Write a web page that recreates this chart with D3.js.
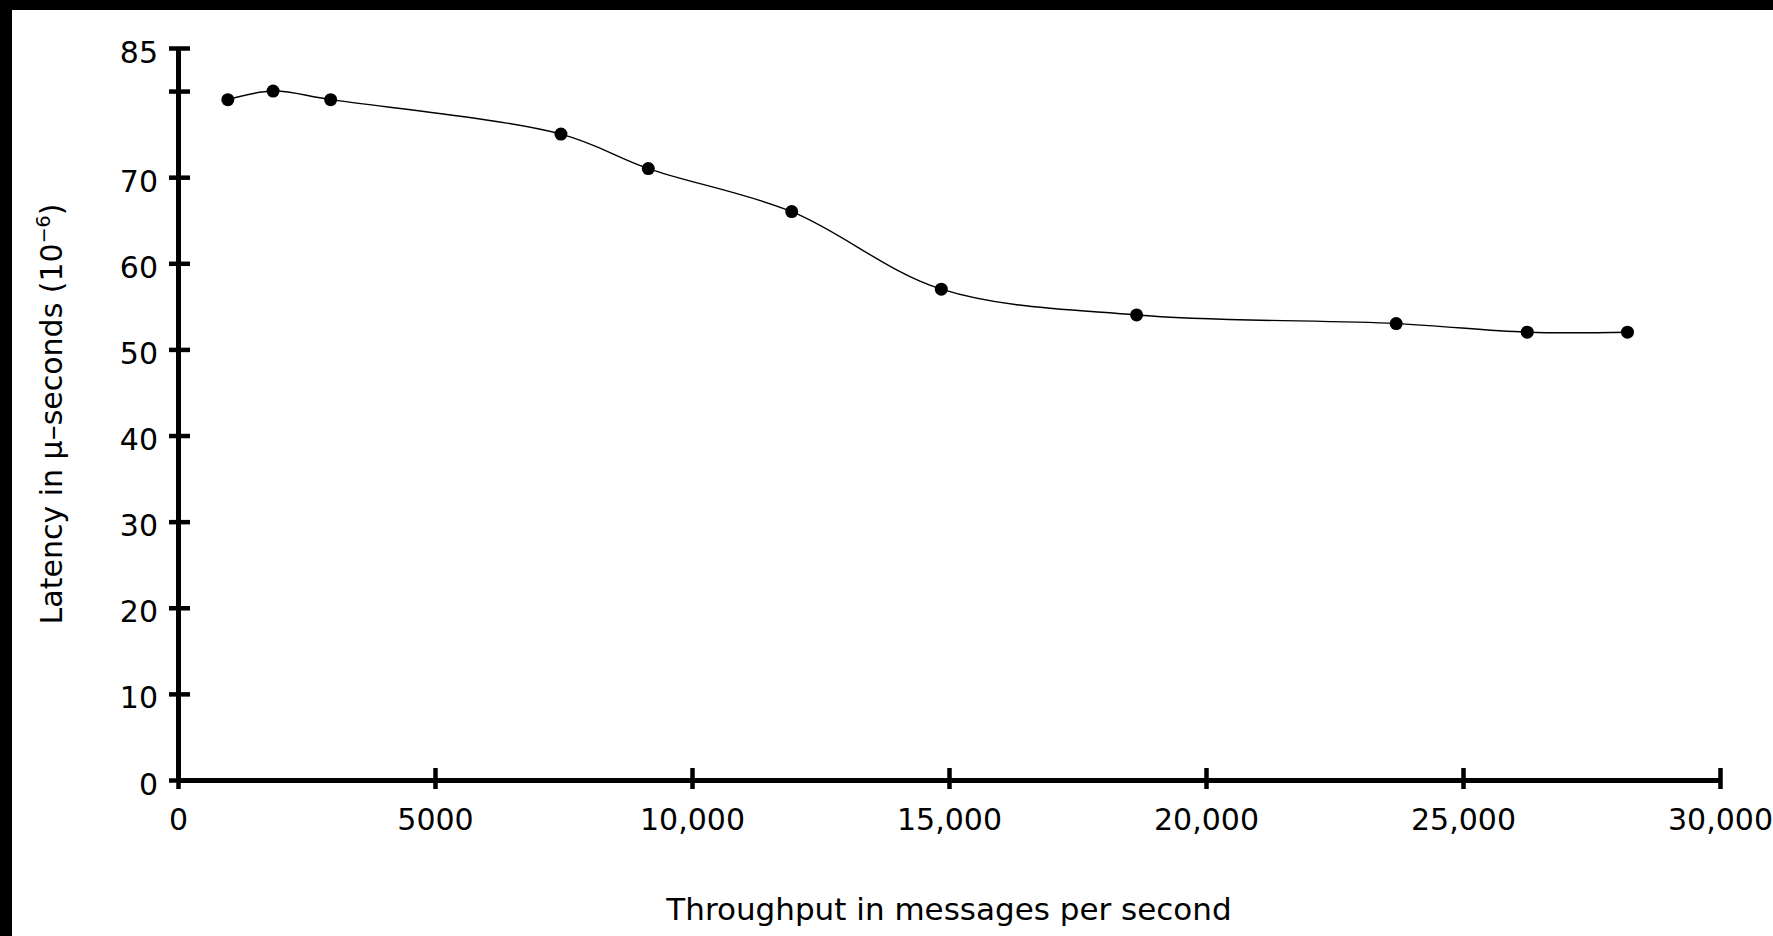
<!DOCTYPE html>
<html>
<head>
<meta charset="utf-8">
<script src="https://cdn.jsdelivr.net/npm/d3@7"></script>
<style>
  html, body { margin: 0; padding: 0; background: #000; }
  svg { display: block; }
  text { font-family: "DejaVu Sans", sans-serif; fill: #000; }
</style>
</head>
<body>
<svg id="chart" width="1773" height="936"></svg>
<script>
// ---- data ----
const throughput = [970, 1850, 2970, 7450, 9150, 11940, 14850, 18650, 23700, 26250, 28200];
const latency    = [79.0, 80.0, 79.0, 75.0, 71.0, 66.0, 57.0, 54.0, 53.0, 52.0, 52.0];
const xTickValues = [0, 5000, 10000, 15000, 20000, 25000, 30000];
const xTickLabels = ["0", "5000", "10,000", "15,000", "20,000", "25,000", "30,000"];
const yTickValues = [0, 10, 20, 30, 40, 50, 60, 70, 80, 85];
const yTickLabels = ["0", "10", "20", "30", "40", "50", "60", "70", "", "85"];
const xTitle = "Throughput in messages per second";

// ---- layout ----
const W = 1773, H = 936;
const svg = d3.select("#chart");
svg.append("rect").attr("x", 0).attr("y", 0).attr("width", W).attr("height", H).attr("fill", "#000");
svg.append("rect").attr("x", 12).attr("y", 10).attr("width", W - 12).attr("height", H - 10).attr("fill", "#fff");

const x = d3.scaleLinear().domain([0, 30000]).range([178, 1720]);
const y = d3.scaleLinear().domain([0, 85]).range([780, 48]);

// ---- axes ----
const xAxis = d3.axisBottom(x)
  .tickValues(xTickValues)
  .tickFormat((d, i) => xTickLabels[i])
  .tickSizeOuter(0);
const gx = svg.append("g").attr("transform", `translate(0,${y(0)})`).call(xAxis);
gx.select(".domain").attr("stroke", "#000").attr("stroke-width", 5);
gx.selectAll(".tick line").attr("stroke", "#000").attr("stroke-width", 4.5).attr("y1", -12).attr("y2", 9);
gx.selectAll(".tick text").attr("y", 50).attr("dy", null).attr("font-size", 30).attr("font-family", "DejaVu Sans");

const yAxis = d3.axisLeft(y)
  .tickValues(yTickValues)
  .tickFormat((d, i) => yTickLabels[i])
  .tickSizeOuter(0);
const gy = svg.append("g").attr("transform", `translate(${x(0)},0)`).call(yAxis);
gy.select(".domain").attr("stroke", "#000").attr("stroke-width", 5);
gy.selectAll(".tick line").attr("stroke", "#000").attr("stroke-width", 4.5).attr("x1", -9).attr("x2", 12);
gy.selectAll(".tick text").attr("x", -20).attr("dy", null).attr("y", 14).attr("font-size", 30).attr("font-family", "DejaVu Sans");
svg.selectAll(".tick text").attr("fill", "#000");

// ---- titles ----
svg.append("text")
  .attr("x", (x(0) + x(30000)) / 2)
  .attr("y", 920)
  .attr("text-anchor", "middle")
  .attr("font-size", 31)
  .text(xTitle);

const yt = svg.append("text")
  .attr("transform", `translate(62,${(y(0) + y(85)) / 2}) rotate(-90)`)
  .attr("text-anchor", "middle")
  .attr("font-size", 30);
yt.append("tspan").text("Latency in \u03bc\u2013seconds (10");
yt.append("tspan").attr("dy", -12).attr("font-size", 19).text("\u2212\u2009\u200a6".replace("\u2009\u200a", ""));
yt.append("tspan").attr("dy", 12).text(")");

// ---- line + points ----
const pts = throughput.map((t, i) => [t, latency[i]]);
const line = d3.line()
  .x(d => x(d[0]))
  .y(d => y(d[1]))
  .curve(d3.curveCatmullRom.alpha(0.5));
svg.append("path")
  .datum(pts)
  .attr("d", line)
  .attr("fill", "none")
  .attr("stroke", "#000")
  .attr("stroke-width", 1.4);

svg.selectAll("circle.pt")
  .data(pts)
  .enter().append("circle")
  .attr("class", "pt")
  .attr("cx", d => x(d[0]))
  .attr("cy", d => y(d[1]))
  .attr("r", 6.5)
  .attr("fill", "#000");
</script>
</body>
</html>
